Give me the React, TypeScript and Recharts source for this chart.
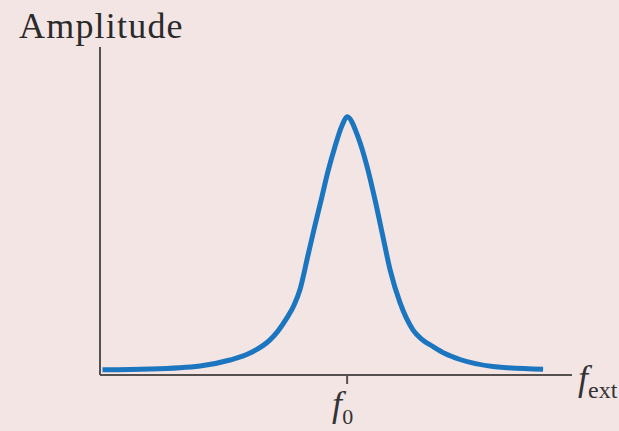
import { LineChart, Line, XAxis, YAxis, Label } from 'recharts'

// Driving frequency (in units of f0) and response amplitude (peak = 1)
const freq = [
  0.01, 0.202, 0.405, 0.526, 0.607, 0.688, 0.72, 0.757, 0.785, 0.809, 0.842, 0.87, 0.898, 0.923, 0.951, 0.979, 1.0,
  1.044, 1.081, 1.113, 1.145, 1.174, 1.214, 1.24, 1.267, 1.3, 1.348, 1.396, 1.457, 1.59, 1.793,
]
const amplitude = [
  0.02, 0.023, 0.035, 0.058, 0.085, 0.136, 0.17, 0.222, 0.27, 0.33, 0.465, 0.58, 0.69, 0.79, 0.885, 0.965, 1.0,
  0.922, 0.806, 0.678, 0.535, 0.407, 0.28, 0.22, 0.174, 0.14, 0.11, 0.083, 0.06, 0.033, 0.022,
]
const xTicks = [1]

const rows = freq.map((f, i) => ({ f, a: amplitude[i] }))

const AXIS = '#555050'
const CURVE = '#1b76bf'
const SERIF = 'Liberation Serif, DejaVu Serif, serif'

function FreqTick({ x = 0, y = 0 }: { x?: number; y?: number }) {
  return (
    <text x={x - 15} y={y + 30} style={{ fontFamily: SERIF }} fill="#333">
      <tspan fontSize={36} fontStyle="italic">f</tspan>
      <tspan fontSize={22} dy={8}>0</tspan>
    </text>
  )
}

export default function App() {
  return (
    <div style={{ position: 'absolute', left: 0, top: 0, width: 619, height: 431, background: '#f4e5e5' }}>
      <LineChart width={619} height={431} data={rows} margin={{ top: 47, right: 47, left: 99, bottom: 0 }}>
        <XAxis
          type="number"
          dataKey="f"
          domain={[0, 1.91]}
          allowDataOverflow
          ticks={xTicks}
          height={56}
          stroke={AXIS}
          strokeWidth={2}
          tickSize={9}
          tickLine={{ stroke: AXIS, strokeWidth: 2 }}
          tick={<FreqTick />}
        >
          <Label
            content={({ viewBox }: any) => (
              <text x={viewBox.x + viewBox.width + 6} y={viewBox.y + 15} style={{ fontFamily: SERIF }} fill="#333">
                <tspan fontSize={36} fontStyle="italic">f</tspan>
                <tspan fontSize={24} dy={8}>ext</tspan>
              </text>
            )}
          />
        </XAxis>
        <YAxis
          type="number"
          domain={[0, 1.27]}
          allowDataOverflow
          width={1}
          tick={false}
          tickLine={false}
          stroke={AXIS}
          strokeWidth={2}
        >
          <Label
            content={({ viewBox }: any) => (
              <text
                x={viewBox.x + viewBox.width - 81}
                y={viewBox.y - 9}
                style={{ fontFamily: SERIF, letterSpacing: 1.2 }}
                fontSize={36}
                fill="#2a2a2a"
              >
                Amplitude
              </text>
            )}
          />
        </YAxis>
        <Line
          type="monotone"
          dataKey="a"
          stroke={CURVE}
          strokeWidth={5}
          dot={false}
          isAnimationActive={false}
        />
      </LineChart>
    </div>
  )
}
